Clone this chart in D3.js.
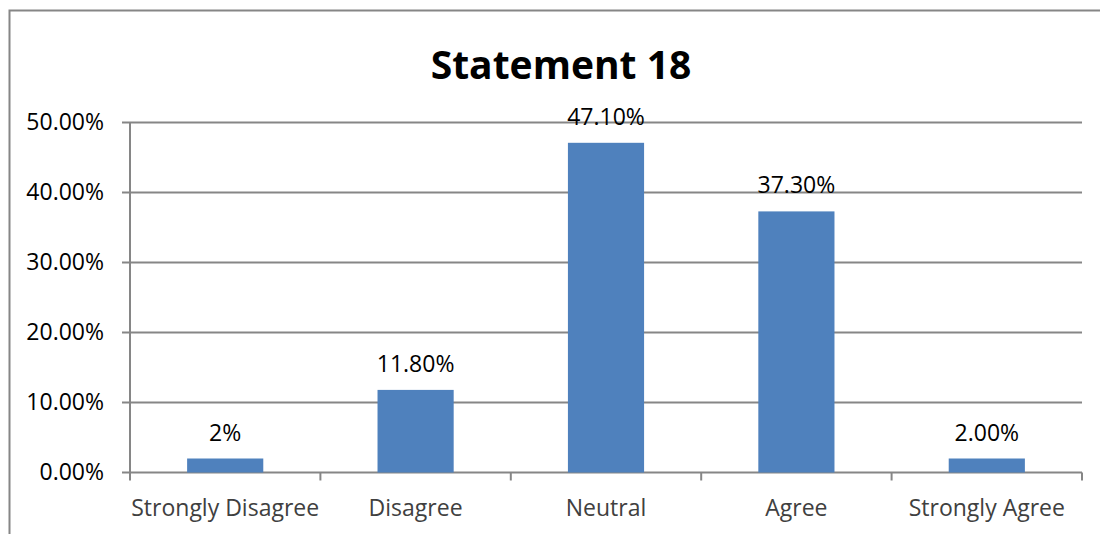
<!DOCTYPE html>
<html>
<head>
  <meta charset="utf-8">
  <style type="text/css">
	body { margin: 0; background: #fff; }
	text { font-family: "Open Sans", sans-serif; }
	.axis .domain { display: none; }
	</style>
</head>
<body>
<svg width="1100" height="534"></svg>
<script src="https://d3js.org/d3.v7.min.js"></script>
<script>
	// values
	var categories = ["Strongly Disagree", "Disagree", "Neutral", "Agree", "Strongly Agree"];
	var values = [2, 11.8, 47.1, 37.3, 2];
	var valueLabels = ["2%", "11.80%", "47.10%", "37.30%", "2.00%"];
	var yTicks = [0, 10, 20, 30, 40, 50];
	var title = "Statement 18";

	var svg = d3.select("svg"),
			margin = {top: 122.5, right: 18, bottom: 61.5, left: 130},
			width = 1100 - margin.left - margin.right,
			height = 534 - margin.top - margin.bottom;

	// chart border (right side runs off the picture)
	svg.append("path")
			.attr("d", "M9.5,534V10.5H1100")
			.attr("fill", "none")
			.attr("stroke", "#868686")
			.attr("stroke-width", 2);

	svg.append("text")
			.attr("x", 561)
			.attr("y", 79)
			.attr("text-anchor", "middle")
			.attr("font-size", 39)
			.attr("font-weight", "bold")
			.attr("fill", "#000")
			.text(title);

	var g = svg.append("g").attr("transform", "translate(" + margin.left + "," + margin.top + ")");

	var x = d3.scaleBand()
			.domain(categories)
			.range([0, width])
			.paddingInner(0.6)
			.paddingOuter(0.3);

	var xTicks = d3.scaleBand().domain(categories).range([0, width]);

	var y = d3.scaleLinear()
			.domain([0, 50])
			.range([height, 0]);

	// gridlines
	g.append("g")
		.selectAll("line")
		.data(yTicks)
		.enter().append("line")
			.attr("x1", -8)
			.attr("x2", width)
			.attr("y1", function(d) { return y(d); })
			.attr("y2", function(d) { return y(d); })
			.attr("stroke", "#868686")
			.attr("stroke-width", 2);

	// y axis line
	g.append("line")
			.attr("x1", 0).attr("x2", 0)
			.attr("y1", 0).attr("y2", height + 8)
			.attr("stroke", "#868686")
			.attr("stroke-width", 2);

	// category tick marks
	g.append("g")
		.selectAll("line")
		.data(categories)
		.enter().append("line")
			.attr("x1", function(d) { return xTicks(d) + xTicks.bandwidth(); })
			.attr("x2", function(d) { return xTicks(d) + xTicks.bandwidth(); })
			.attr("y1", height)
			.attr("y2", height + 8)
			.attr("stroke", "#868686")
			.attr("stroke-width", 2);

	g.append("g")
		.selectAll("rect")
		.data(values)
		.enter().append("rect")
			.attr("x", function(d, i) { return x(categories[i]); })
			.attr("y", function(d) { return y(d); })
			.attr("width", x.bandwidth())
			.attr("height", function(d) { return height - y(d); })
			.attr("fill", "#4f81bd");

	g.append("g")
		.selectAll("text")
		.data(values)
		.enter().append("text")
			.attr("x", function(d, i) { return x(categories[i]) + x.bandwidth() / 2; })
			.attr("y", function(d) { return y(d) - 18; })
			.attr("text-anchor", "middle")
			.attr("font-size", 23)
			.attr("fill", "#000")
			.text(function(d, i) { return valueLabels[i]; });

	// y tick labels
	g.append("g")
			.attr("class", "axis")
			.call(d3.axisLeft(y).tickValues(yTicks).tickSize(0).tickPadding(26)
				.tickFormat(function(d) { return d3.format(".2f")(d) + "%"; }))
			.selectAll("text")
			.attr("font-size", 23)
			.attr("fill", "#000")
			.attr("font-family", "Open Sans, sans-serif");

	// category labels
	g.append("g")
		.selectAll("text")
		.data(categories)
		.enter().append("text")
			.attr("x", function(d) { return xTicks(d) + xTicks.bandwidth() / 2; })
			.attr("y", height + 43)
			.attr("text-anchor", "middle")
			.attr("font-size", 23)
			.attr("fill", "#404040")
			.text(function(d) { return d; });
</script>
</body>
</html>
